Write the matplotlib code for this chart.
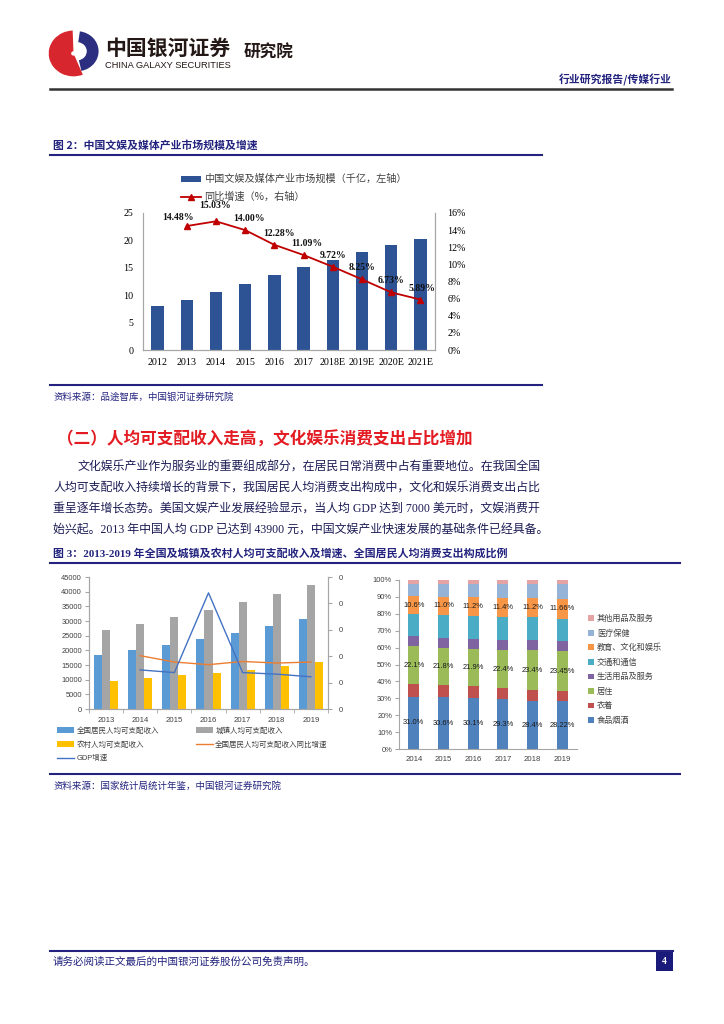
import matplotlib
matplotlib.use("Agg")
import matplotlib.pyplot as plt
from matplotlib.patches import Wedge, Rectangle
import numpy as np

plt.rcParams['font.family'] = ['Noto Sans CJK SC', 'DejaVu Sans']

# ---- figure 2: market size and growth ----
years2 = ['2012', '2013', '2014', '2015', '2016', '2017', '2018E', '2019E', '2020E', '2021E']
market_size = [8.0, 9.2, 10.6, 12.1, 13.6, 15.1, 16.5, 17.9, 19.1, 20.2]
growth = [14.48, 15.03, 14.00, 12.28, 11.09, 9.72, 8.25, 6.73, 5.89]   # 2013..2021E
growth_labels = ['14.48%', '15.03%', '14.00%', '12.28%', '11.09%', '9.72%', '8.25%', '6.73%', '5.89%']

# ---- figure 3 left: disposable income ----
years3 = ['2013', '2014', '2015', '2016', '2017', '2018', '2019']
income_all = [18311, 20167, 21966, 23821, 25974, 28228, 30733]
income_urban = [26955, 28844, 31195, 33616, 36396, 39251, 42359]
income_rural = [9430, 10489, 11422, 12363, 13432, 14617, 16021]
income_growth = [0.101, 0.089, 0.084, 0.090, 0.087, 0.089]   # 2014..2019
gdp_growth = [0.074, 0.069, 0.22, 0.069, 0.066, 0.061]        # 2014..2019

# ---- figure 3 right: consumption structure (%) ----
years_c = ['2014', '2015', '2016', '2017', '2018', '2019']
food = [31.0, 30.6, 30.1, 29.3, 28.4, 28.22]
clothing = [7.6, 7.4, 7.0, 6.8, 6.5, 6.2]
housing = [22.1, 21.8, 21.9, 22.4, 23.4, 23.45]
daily_goods = [6.1, 6.1, 6.1, 6.1, 6.2, 5.9]
transport = [12.9, 13.3, 13.7, 13.6, 13.5, 13.3]
education = [10.6, 11.0, 11.2, 11.4, 11.2, 11.66]
medical = [7.2, 7.4, 7.6, 7.9, 8.5, 8.8]
other = [2.5, 2.4, 2.4, 2.5, 2.3, 2.47]
cat_names = ['食品烟酒', '衣着', '居住', '生活用品及服务', '交通和通信',
             '教育、文化和娱乐', '医疗保健', '其他用品及服务']

NAVY = '#23237f'
TEXT = '#1c1c55'
W, H = 724, 1024
fig = plt.figure(figsize=(W / 100, H / 100), dpi=100)


def px_axes(x0, y0, x1, y1):
    return fig.add_axes([x0 / W, 1 - y1 / H, (x1 - x0) / W, (y1 - y0) / H])


bg = fig.add_axes([0, 0, 1, 1])
bg.set_xlim(0, W)
bg.set_ylim(H, 0)
bg.axis('off')

# header
logo = px_axes(48, 29, 100, 77)
logo.set_xlim(-1.1, 1.1)
logo.set_ylim(-1.1, 1.1)
logo.axis('off')
logo.add_patch(Wedge((-0.02, -0.02), 1.05, 92, 292, width=0.95, fc='#d8262e', ec='none'))
logo.add_patch(Wedge((0.12, 0.08), 0.92, -78, 82, width=0.5, fc='#2c2f80', ec='none'))

bg.text(105, 48, '中国银河证券', fontsize=15, fontweight='bold', color='#231815', va='center')
bg.text(105, 65.5, 'CHINA GALAXY SECURITIES', family='Liberation Sans', fontsize=6.7,
        color='#231815', va='center')
bg.text(244, 53, '研究院', fontsize=12, fontweight='bold', color='#231815', va='center')
bg.text(672, 80, '行业研究报告/传媒行业', fontsize=7.8, fontweight='bold', color=NAVY,
        ha='right', va='center')
bg.plot([50, 672], [88.5, 88.5], color='#333333', lw=1.8)

# figure 2 frame
bg.text(53, 145, '图 2：中国文娱及媒体产业市场规模及增速', fontsize=7.8, fontweight='bold',
        color=NAVY, va='center')
bg.plot([50, 542], [154.5, 154.5], color=NAVY, lw=1.5)
bg.plot([50, 542], [385, 385], color=NAVY, lw=1.5)
bg.text(53, 397, '资料来源：品途智库，中国银河证券研究院', fontsize=6.8, color=NAVY, va='center')

# section heading and paragraph
bg.text(57, 440, '（二）人均可支配收入走高，文化娱乐消费支出占比增加', fontsize=12,
        fontweight='bold', color='#e31b23', va='center')
para = ['文化娱乐产业作为服务业的重要组成部分，在居民日常消费中占有重要地位。在我国全国',
        '人均可支配收入持续增长的背景下，我国居民人均消费支出构成中，文化和娱乐消费支出占比',
        '重呈逐年增长态势。美国文娱产业发展经验显示，当人均 GDP 达到 7000 美元时，文娱消费开',
        '始兴起。2013 年中国人均 GDP 已达到 43900 元，中国文娱产业快速发展的基础条件已经具备。']
para_x = [78, 53, 53, 53]
para_y = [468, 489, 510, 531]
for s, x, y in zip(para, para_x, para_y):
    bg.text(x, y, s, fontsize=8.6, color=TEXT, va='center',
            family=['Liberation Serif', 'Noto Sans CJK SC'])

# figure 3 frame
bg.text(53, 553, '图 3：2013-2019 年全国及城镇及农村人均可支配收入及增速、全国居民人均消费支出构成比例',
        fontsize=7.9, fontweight='bold', color=NAVY, va='center',
        family=['Liberation Serif', 'Noto Sans CJK SC'])
bg.plot([50, 680], [563, 563], color=NAVY, lw=1.5)
bg.plot([50, 680], [774, 774], color=NAVY, lw=1.5)
bg.text(53, 786, '资料来源：国家统计局统计年鉴，中国银河证券研究院', fontsize=6.8, color=NAVY,
        va='center')

# footer
bg.plot([50, 673], [951, 951], color=NAVY, lw=1.5)
bg.add_patch(Rectangle((656, 951), 17, 20, fc='#1a1a7a', ec='none'))
bg.text(664.5, 961, '4', color='white', fontsize=7, fontweight='bold', ha='center', va='center',
        family='Liberation Serif')
bg.text(53, 962, '请务必阅读正文最后的中国银河证券股份公司免责声明。', fontsize=7.6, color=NAVY,
        va='center')

# ---------- chart 2 ----------
serif = 'Liberation Serif'
ax = px_axes(143, 213, 435, 350)
x2 = np.arange(len(years2))
bars = ax.bar(x2, market_size, width=0.43, color='#2e5395', label='中国文娱及媒体产业市场规模（千亿，左轴）')
ax.set_xlim(-0.5, len(years2) - 0.5)
ax.set_ylim(0, 25)
ax.set_yticks(range(0, 26, 5))
ax.set_xticks(x2)
ax.set_xticklabels(years2, family=serif, fontsize=7.2)
for t in ax.get_yticklabels():
    t.set_family(serif)
    t.set_fontsize(7.2)
ax.tick_params(length=0, pad=7)
ax.tick_params(axis='x', pad=6)
ax.spines['top'].set_visible(False)
for sp in ['left', 'right', 'bottom']:
    ax.spines[sp].set_color('#a6a6a6')
    ax.spines[sp].set_linewidth(0.8)

ax2 = ax.twinx()
ax2.set_ylim(0, 16)
ax2.set_yticks(range(0, 17, 2))
ax2.set_yticklabels([f'{v}%' for v in range(0, 17, 2)], family=serif, fontsize=7.2)
ax2.tick_params(length=0, pad=9)
ax2.spines['top'].set_visible(False)
for sp in ['left', 'right', 'bottom']:
    ax2.spines[sp].set_color('#a6a6a6')
    ax2.spines[sp].set_linewidth(0.8)
line, = ax2.plot(x2[1:], growth, color='#c00000', lw=1.3, marker='^', ms=4.5,
                 label='同比增速（%，右轴）')
label_offsets = [(-6, 3), (-1, 8), (3, 5), (3, 5), (2, 5), (0, 5), (0, 5), (0, 5), (1, 5)]
for xi, v, s, off in zip(x2[1:], growth, growth_labels, label_offsets):
    ax2.annotate(s, (xi, v), xytext=off, textcoords='offset points', ha='center', va='bottom',
                 family=serif, fontsize=7, fontweight='bold', color='#111111')

ax.legend(handles=[bars, line], loc='upper left', bbox_to_anchor=(181 / W, 1 - 174 / H),
          bbox_transform=fig.transFigure, frameon=False, fontsize=7.3, handlelength=2.0,
          handleheight=0.5, handletextpad=0.3, labelspacing=0.72, borderpad=0, borderaxespad=0,
          labelcolor='#404040')

# ---------- chart 3 left ----------
sans = 'Liberation Sans'
axL = px_axes(89, 577, 328, 709)
x3 = np.arange(len(years3))
bw = 0.235
b1 = axL.bar(x3 - bw, income_all, bw, color='#5b9bd5', label='全国居民人均可支配收入')
b2 = axL.bar(x3, income_urban, bw, color='#a5a5a5', label='城镇人均可支配收入')
b3 = axL.bar(x3 + bw, income_rural, bw, color='#ffc000', label='农村人均可支配收入')
axL.set_xlim(-0.5, len(years3) - 0.5)
axL.set_ylim(0, 45000)
axL.set_yticks(range(0, 45001, 5000))
axL.set_xticks(x3)
axL.set_xticklabels(years3, family=sans, fontsize=5.6, color='#404040')
for t in axL.get_yticklabels():
    t.set_family(sans)
    t.set_fontsize(5.4)
    t.set_color('#404040')
axL.set_xticks(np.arange(-0.5, len(years3), 1), minor=True)
axL.tick_params(axis='x', which='major', length=0, pad=6)
axL.tick_params(axis='x', which='minor', length=3, color='#a6a6a6')
axL.tick_params(axis='y', length=3, color='#a6a6a6', pad=2)
axL.spines['top'].set_visible(False)
for sp in ['left', 'right', 'bottom']:
    axL.spines[sp].set_color('#a6a6a6')
    axL.spines[sp].set_linewidth(0.8)

axR = axL.twinx()
axR.set_ylim(0, 0.25)
axR.set_yticks(np.arange(0, 0.26, 0.05))
axR.set_yticklabels(['0'] * 6, family=sans, fontsize=5.4, color='#404040')
axR.tick_params(length=3, color='#a6a6a6', pad=5)
axR.spines['top'].set_visible(False)
for sp in ['left', 'right', 'bottom']:
    axR.spines[sp].set_color('#a6a6a6')
    axR.spines[sp].set_linewidth(0.8)
l1, = axR.plot(x3[1:], income_growth, color='#ed7d31', lw=1.0, label='全国居民人均可支配收入同比增速')
l2, = axR.plot(x3[1:], gdp_growth, color='#4472c4', lw=1.0, label='GDP增速')

fig.legend(handles=[b1, b3, l2, b2, l1], loc='upper left', bbox_to_anchor=(57 / W, 1 - 727 / H),
           frameon=False, ncol=2, handlelength=2.3, handleheight=0.7,
           handletextpad=0.3, columnspacing=4.9, labelspacing=0.85, borderpad=0,
           borderaxespad=0, labelcolor='#404040',
           prop={'family': [sans, 'Noto Sans CJK SC'], 'size': 5.4})

# ---------- chart 3 right ----------
axS = px_axes(399, 580, 577, 749)
xc = np.arange(len(years_c))
series = [food, clothing, housing, daily_goods, transport, education, medical, other]
colors = ['#4f81bd', '#c0504d', '#9bbb59', '#8064a2', '#4bacc6', '#f79646', '#95b3d7', '#e6a3a3']
bottom = np.zeros(len(years_c))
containers = []
for vals, name, c in zip(series, cat_names, colors):
    cont = axS.bar(xc, vals, 0.37, bottom=bottom, color=c, label=name)
    containers.append(cont)
    bottom += np.array(vals)
for idx, vals in [(0, food), (2, housing), (5, education)]:
    axS.bar_label(containers[idx], labels=[f'{v}%' for v in vals], label_type='center',
                  fontsize=5.4, family=sans, color='#1a1a1a')
axS.set_xlim(-0.5, len(years_c) - 0.5)
axS.set_ylim(0, 100)
axS.set_yticks(range(0, 101, 10))
axS.set_yticklabels([f'{v}%' for v in range(0, 101, 10)], family=sans, fontsize=5.4, color='#404040')
axS.set_xticks(xc)
axS.set_xticklabels(years_c, family=sans, fontsize=5.6, color='#404040')
axS.tick_params(axis='y', length=3, color='#a6a6a6', pad=2)
axS.tick_params(axis='x', length=0, pad=5)
for sp in ['top', 'right']:
    axS.spines[sp].set_visible(False)
for sp in ['left', 'bottom']:
    axS.spines[sp].set_color('#a6a6a6')
    axS.spines[sp].set_linewidth(0.8)

fig.legend(handles=containers[::-1], loc='upper left', bbox_to_anchor=(588 / W, 1 - 614 / H),
           frameon=False, fontsize=5.9, handlelength=0.7, handleheight=0.7, handletextpad=0.4,
           labelspacing=0.68, borderpad=0, borderaxespad=0, labelcolor='#404040')

fig.savefig('out.png', dpi=100)
